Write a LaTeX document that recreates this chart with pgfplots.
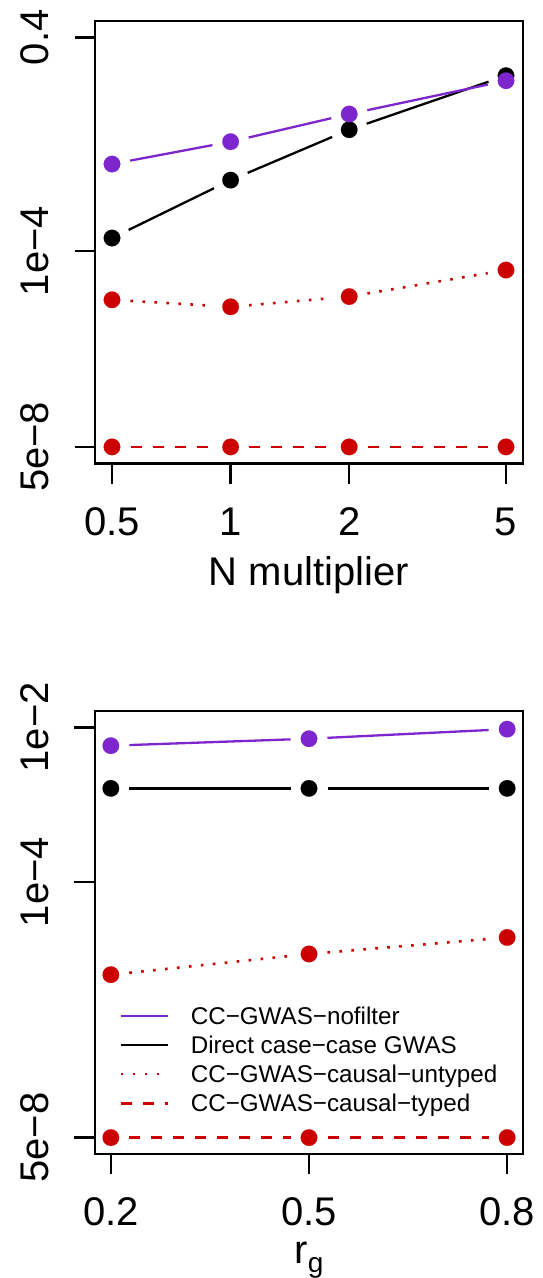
\documentclass[border=0pt]{standalone}
\usepackage{fontspec}
\setmainfont{Liberation Sans}
\usepackage{pgfplots}
\pgfplotsset{compat=1.18}
\definecolor{purple3}{HTML}{7D26CD}
\definecolor{red3}{HTML}{CD0000}
\tikzset{
  pl/.style={purple3, line width=2.3pt, solid},
  bl/.style={black, line width=2.3pt, solid},
  rdot/.style={red3, line width=2.6pt, dash pattern=on 2.6pt off 9.4pt},
  rdash/.style={red3, line width=2.5pt, dash pattern=on 11pt off 11pt},
}
\newcommand{\seg}[5]{\addplot[forget plot,#1,no marks,shorten <=18.5pt,shorten >=18.5pt] coordinates {(#2,#3) (#4,#5)};}
\newcommand{\pts}[2]{\addplot[forget plot, color=#1, only marks, mark=*, mark size=8.3pt, mark options={solid, fill=#1, draw=#1, line width=0.1pt}] coordinates {#2};}
\newcommand{\fs}[1]{\fontsize{#1}{#1}\selectfont}
\pgfplotsset{
  rstyle/.style={
    scale only axis, clip=false,
    tick align=outside, tick pos=left,
    major tick length=20.5pt,
    axis line style={line width=2.5pt},
    tick style={black, line width=2.5pt},
    minor tick num=0,
    ticklabel style={font=\fs{40}},
    xticklabel style={anchor=base, inner sep=0pt, yshift=-51.5pt},
    yticklabel style={xshift=-25.5pt, rotate=90, anchor=south, inner sep=0pt},
    xlabel style={at={(axis description cs:0.5,0)}, anchor=base, inner sep=0pt, font=\fs{40}},
  }
}
\begin{document}
\begin{tikzpicture}[x=1pt,y=1pt]
\useasboundingbox (0,0) rectangle (543,1278);
% ---------------- top panel ----------------
\begin{axis}[xmode=log, ymode=log, rstyle, at={(95pt,814.7pt)}, anchor=south west,
  width=428pt, height=442.3pt,
  xmin=0.4527, xmax=5.522, ymin=2.65e-8, ymax=0.755,
  xtick={0.5,1,2,5}, xticklabels={0.5,1,2,5},
  ytick={5e-8,1e-4,0.4}, yticklabels={5e−8,1e−4,0.4},
  xlabel={N multiplier}, xlabel style={yshift=-121.7pt}]
% CC-GWAS-causal-typed
\seg{rdash}{0.5}{5e-8}{1}{5e-8}
\seg{rdash}{1}{5e-8}{2}{5e-8}
\seg{rdash}{2}{5e-8}{5}{5e-8}
\pts{red3}{(0.5,5e-8) (1,5e-8) (2,5e-8) (5,5e-8)}
% CC-GWAS-causal-untyped
\seg{rdot}{0.5}{1.51e-5}{1}{1.15e-5}
\seg{rdot}{1}{1.15e-5}{2}{1.71e-5}
\seg{rdot}{2}{1.71e-5}{5}{4.79e-5}
\pts{red3}{(0.5,1.51e-5) (1,1.15e-5) (2,1.71e-5) (5,4.79e-5)}
% Direct case-case GWAS
\seg{bl}{0.5}{1.66e-4}{1}{1.57e-3}
\seg{bl}{1}{1.57e-3}{2}{0.0111}
\seg{bl}{2}{0.0111}{5}{0.0904}
\pts{black}{(0.5,1.66e-4) (1,1.57e-3) (2,0.0111) (5,0.0904)}
% CC-GWAS-nofilter
\seg{pl}{0.5}{2.93e-3}{1}{6.97e-3}
\seg{pl}{1}{6.97e-3}{2}{0.0204}
\seg{pl}{2}{0.0204}{5}{0.0744}
\pts{purple3}{(0.5,2.93e-3) (1,6.97e-3) (2,0.0204) (5,0.0744)}
\end{axis}
% ---------------- bottom panel ----------------
\begin{axis}[ymode=log, rstyle, at={(95pt,124pt)}, anchor=south west,
  width=428pt, height=443pt,
  xmin=0.176, xmax=0.824, ymin=3.07e-8, ymax=0.01629,
  xtick={0.2,0.5,0.8}, xticklabels={0.2,0.5,0.8},
  ytick={5e-8,1e-4,1e-2}, yticklabels={5e−8,1e−4,1e−2},
  xlabel={r\raisebox{-9pt}{\fs{28}g}}, xlabel style={yshift=-109pt},
  legend style={draw=none, fill=none, at={(axis description cs:0.0561,0.2133)}, anchor=west,
    inner sep=0pt, row sep=11.9pt, column sep=22pt, font=\fs{24.2},
    nodes={inner sep=0pt, text height=17.3pt, text depth=0pt}},
  legend cell align=left,
  legend image code/.code={\draw[#1] (0pt,0pt) -- (47pt,0pt);}]
\addlegendimage{pl}\addlegendentry{CC−GWAS−nofilter}
\addlegendimage{bl}\addlegendentry{Direct case−case GWAS}
\addlegendimage{rdot}\addlegendentry{CC−GWAS−causal−untyped}
\addlegendimage{rdash}\addlegendentry{CC−GWAS−causal−typed}
% CC-GWAS-causal-typed
\seg{rdash}{0.2}{5e-8}{0.5}{5e-8}
\seg{rdash}{0.5}{5e-8}{0.8}{5e-8}
\pts{red3}{(0.2,5e-8) (0.5,5e-8) (0.8,5e-8)}
% CC-GWAS-causal-untyped
\seg{rdot}{0.2}{6.37e-6}{0.5}{1.18e-5}
\seg{rdot}{0.5}{1.18e-5}{0.8}{1.93e-5}
\pts{red3}{(0.2,6.37e-6) (0.5,1.18e-5) (0.8,1.93e-5)}
% Direct case-case GWAS
\seg{bl}{0.2}{1.63e-3}{0.5}{1.63e-3}
\seg{bl}{0.5}{1.63e-3}{0.8}{1.63e-3}
\pts{black}{(0.2,1.63e-3) (0.5,1.63e-3) (0.8,1.63e-3)}
% CC-GWAS-nofilter
\seg{pl}{0.2}{5.8e-3}{0.5}{7.14e-3}
\seg{pl}{0.5}{7.14e-3}{0.8}{9.5e-3}
\pts{purple3}{(0.2,5.8e-3) (0.5,7.14e-3) (0.8,9.5e-3)}
\end{axis}
\end{tikzpicture}
\end{document}
